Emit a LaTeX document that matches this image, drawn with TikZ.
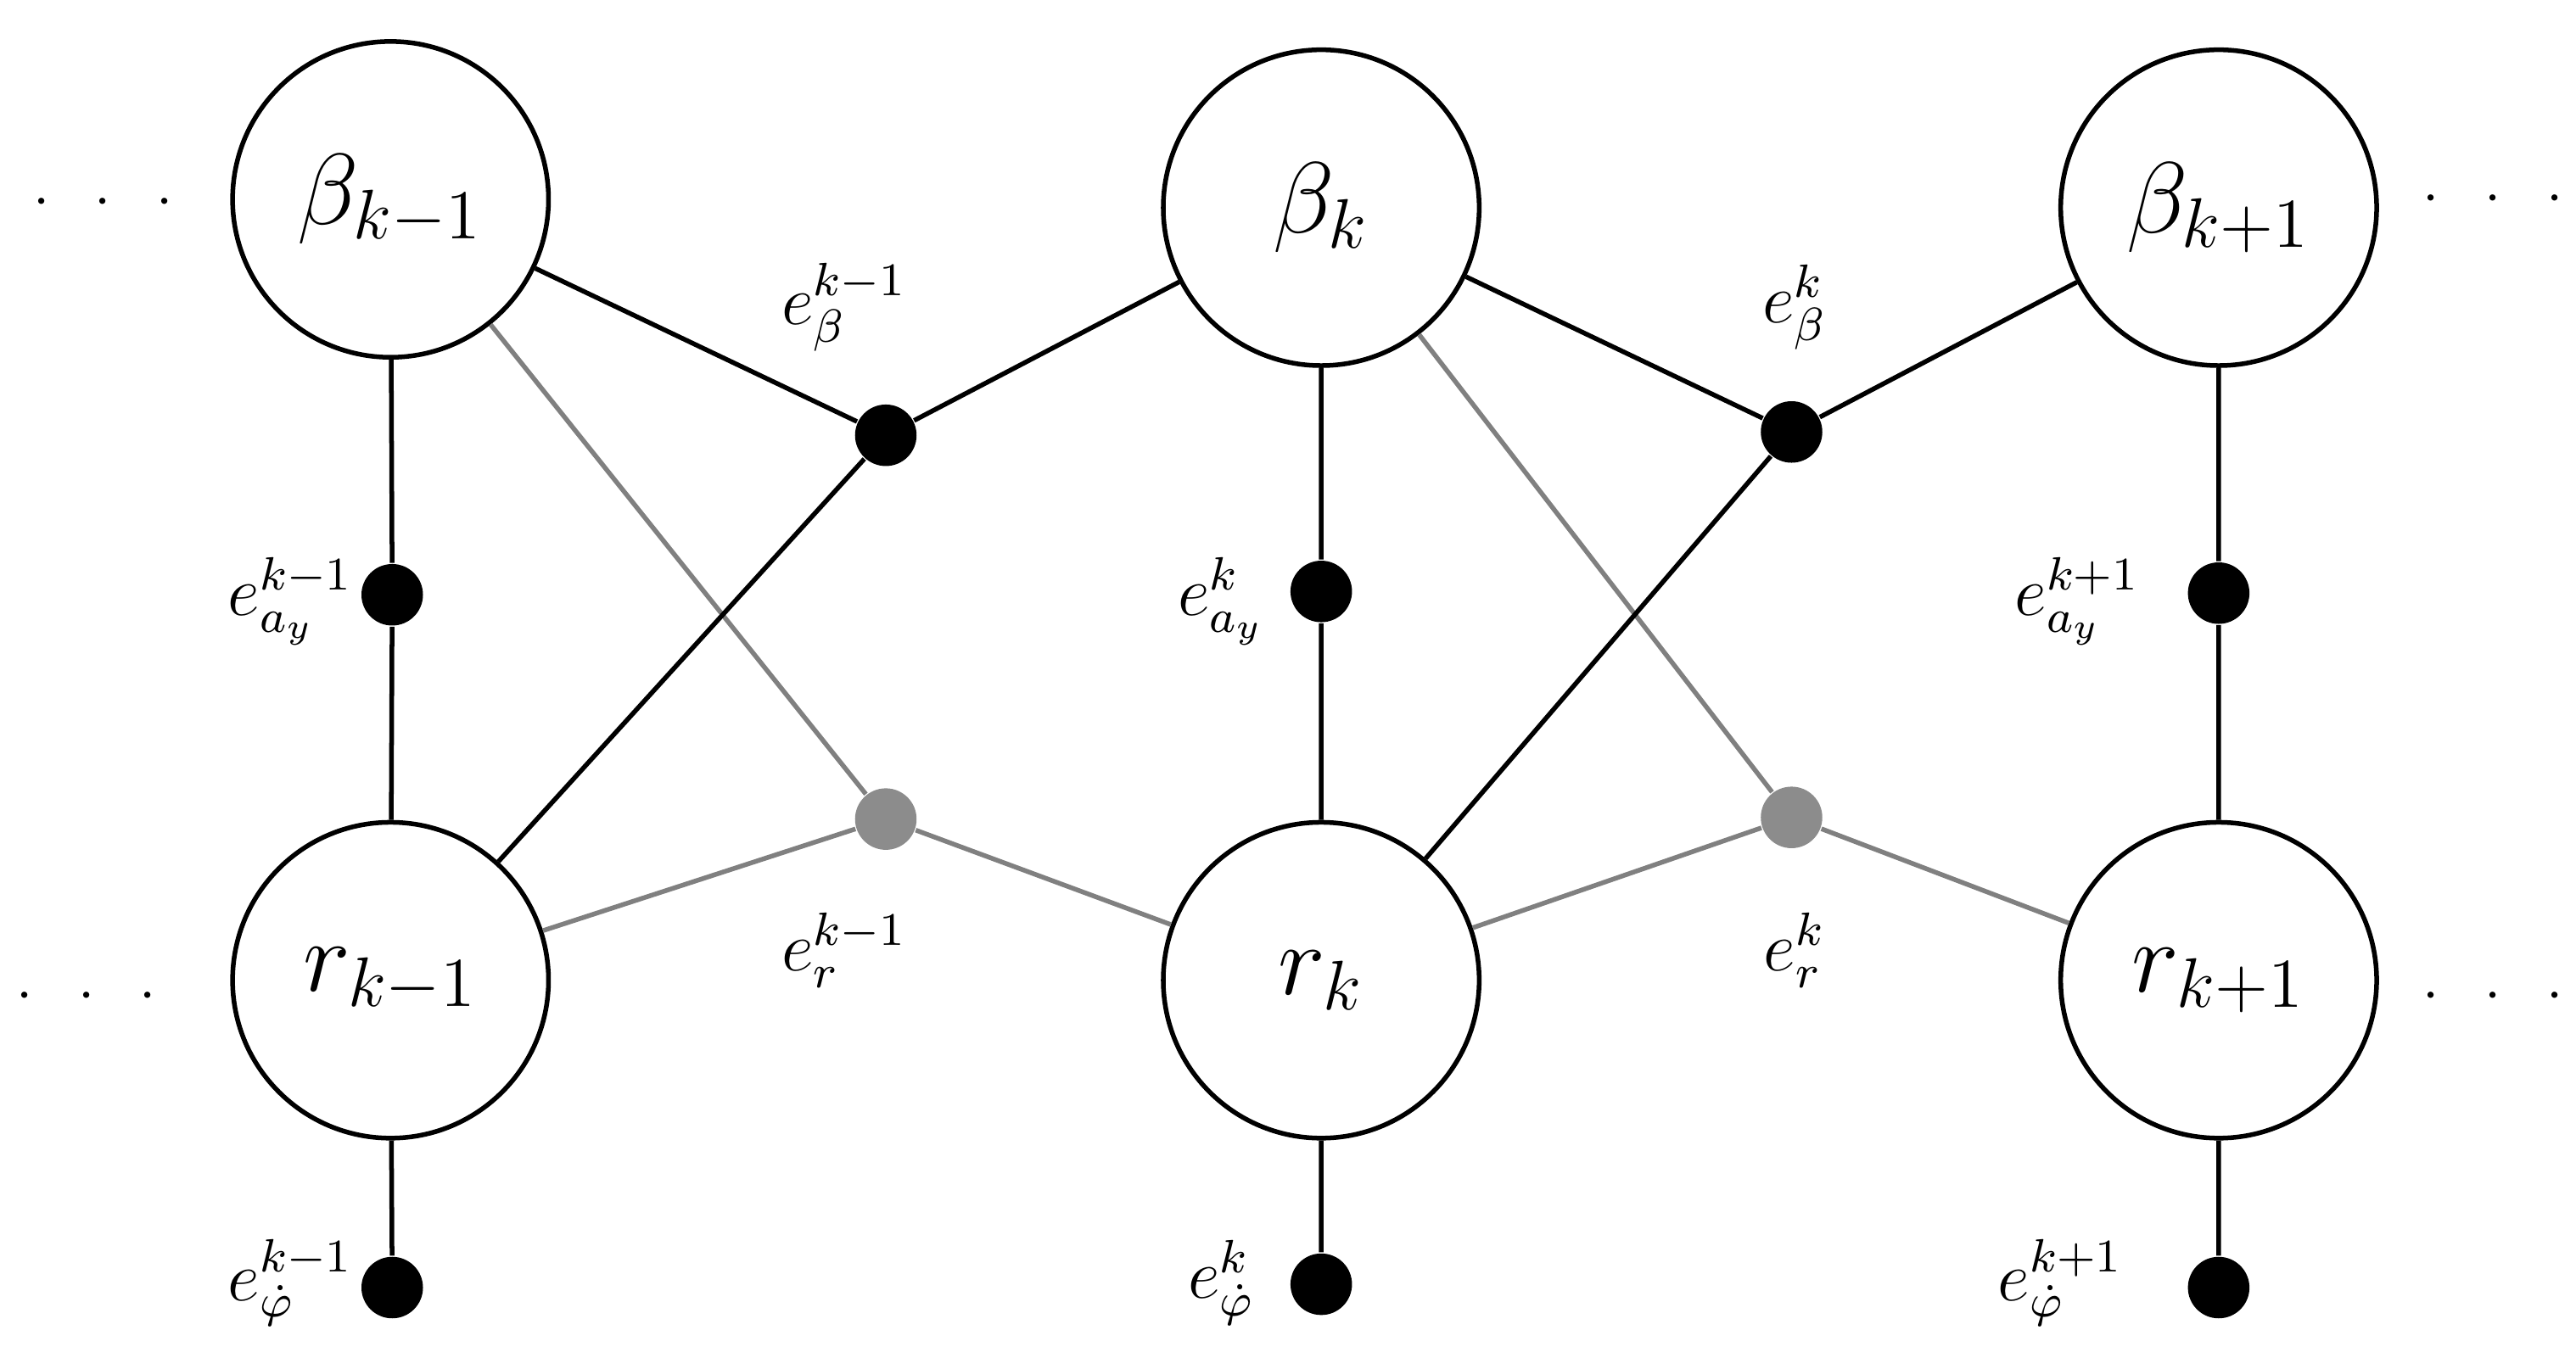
\documentclass[tikz,border=0pt]{standalone}
\begin{document}
\begin{tikzpicture}[x=0.01cm,y=-0.01cm,
 big/.style={circle,draw,thick,minimum size=1.9cm,inner sep=0pt,font=\LARGE},
 bd/.style={circle,fill=black,minimum size=0.37cm,inner sep=0pt},
 gd/.style={circle,fill=gray!90,minimum size=0.37cm,inner sep=0pt},
 bl/.style={thick},
 gl/.style={gray,thick},
 lab/.style={font=\large},
 ell/.style={font=\normalsize}]
\useasboundingbox (0,0) rectangle (1550,824);
\node[big] (b1) at (235,120) {$\beta_{k-1}$};
\node[big] (b2) at (795,125) {$\beta_{k}$};
\node[big] (b3) at (1335,125) {$\beta_{k+1}$};
\node[big] (r1) at (235,590) {$r_{k-1}$};
\node[big] (r2) at (795,590) {$r_{k}$};
\node[big] (r3) at (1335,590) {$r_{k+1}$};
\node[bd] (eb1) at (533,262) {};
\node[bd] (eb2) at (1078,260) {};
\node[gd] (er1) at (533,493) {};
\node[gd] (er2) at (1078,492) {};
\node[bd] (ea1) at (236,358) {};
\node[bd] (ea2) at (795,356) {};
\node[bd] (ea3) at (1335,357) {};
\node[bd] (ep1) at (236,775) {};
\node[bd] (ep2) at (795,773) {};
\node[bd] (ep3) at (1335,775) {};
\draw[gl] (b1)--(er1) (r1)--(er1)--(r2) (b2)--(er2) (r2)--(er2)--(r3);
\draw[bl] (b1)--(eb1)--(b2) (r1)--(eb1) (b2)--(eb2)--(b3) (r2)--(eb2);
\draw[bl] (b1)--(ea1)--(r1) (b2)--(ea2)--(r2) (b3)--(ea3)--(r3);
\draw[bl] (r1)--(ep1) (r2)--(ep2) (r3)--(ep3);
\node[lab] (l1) at (508,185) {$e_{\beta}^{k-1}$};
\node[lab] (l2) at (1080,185) {$e_{\beta}^{k}$};
\node[lab] (l3) at (508,572) {$e_{r}^{k-1}$};
\node[lab] (l4) at (1080,572) {$e_{r}^{k}$};
\node[lab] (l5) at (175,362) {$e_{a_y}^{k-1}$};
\node[lab] (l6) at (735,362) {$e_{a_y}^{k}$};
\node[lab] (l7) at (1250,362) {$e_{a_y}^{k+1}$};
\node[lab] (l8) at (175,772) {$e_{\dot\varphi}^{k-1}$};
\node[lab] (l9) at (735,772) {$e_{\dot\varphi}^{k}$};
\node[lab] (l10) at (1240,772) {$e_{\dot\varphi}^{k+1}$};
\node[ell] (d1) at (62,122) {$\cdot\;\;\cdot\;\;\cdot$};
\node[ell] (d2) at (52,600) {$\cdot\;\;\cdot\;\;\cdot$};
\node[ell] (d3) at (1500,120) {$\cdot\;\;\cdot\;\;\cdot$};
\node[ell] (d4) at (1500,600) {$\cdot\;\;\cdot\;\;\cdot$};
\end{tikzpicture}
\end{document}
